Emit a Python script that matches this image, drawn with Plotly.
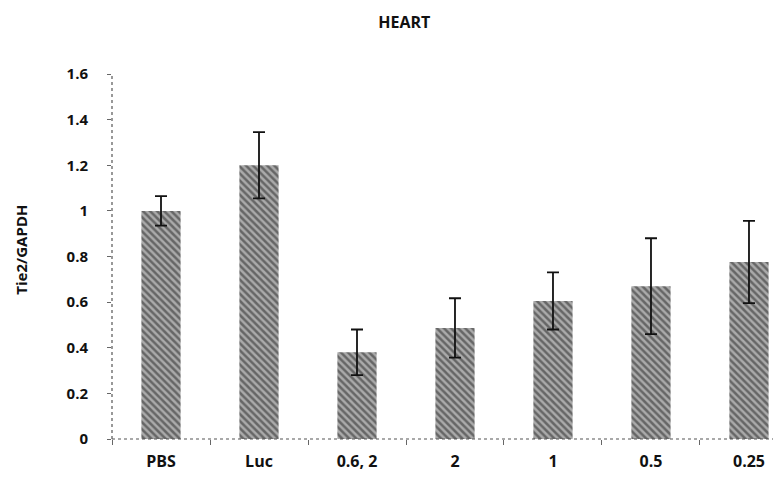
import plotly.graph_objects as go

categories = ["PBS", "Luc", "0.6, 2", "2", "1", "0.5", "0.25"]
values = [1.00, 1.20, 0.38, 0.487, 0.605, 0.67, 0.776]
errors = [0.065, 0.145, 0.10, 0.13, 0.125, 0.21, 0.18]
y_ticks = [0, 0.2, 0.4, 0.6, 0.8, 1, 1.2, 1.4, 1.6]
y_tick_labels = ["0", "0.2", "0.4", "0.6", "0.8", "1", "1.2", "1.4", "1.6"]

FONT = "Open Sans"

fig = go.Figure(go.Bar(
    x=categories, y=values, width=0.4,
    marker=dict(color="#a0a0a0", line=dict(width=0),
                pattern=dict(shape="\\", fgcolor="#222222", bgcolor="#aaaaaa",
                             size=5, solidity=0.5)),
    error_y=dict(type="data", array=errors, visible=True, color="#111",
                 thickness=1.8, width=6),
))

fig.update_layout(
    width=773, height=493,
    margin=dict(l=112, r=0, t=74, b=54, autoexpand=False),
    paper_bgcolor="white", plot_bgcolor="white",
    showlegend=False,
    title=dict(text="<b>HEART</b>", x=0.523, xanchor="center", y=0.955, yanchor="middle",
               font=dict(family=FONT, size=16, color="#111")),
    font=dict(family=FONT, color="#111"),
)
fig.update_xaxes(
    type="category", range=[-0.5, 6.245], automargin=False,
    showline=False, showgrid=False, zeroline=False,
    ticks="outside", tickson="boundaries", ticklen=5, tickcolor="#666", tickwidth=1,
    tickfont=dict(family=FONT, size=16, color="#111", weight="bold"),
    ticklabelstandoff=11,
)
fig.update_yaxes(
    range=[0, 1.6], tickvals=y_ticks, ticktext=y_tick_labels, automargin=False,
    showline=False, showgrid=False, zeroline=False,
    ticks="outside", ticklen=4, tickcolor="#666", tickwidth=1,
    tickfont=dict(family=FONT, size=15, color="#111", weight="bold"),
    ticklabelstandoff=16,
)
# dotted axis lines
fig.add_shape(type="line", xref="paper", yref="paper", x0=0, x1=0, y0=0, y1=1,
              line=dict(color="#555", width=1.2, dash="dot"))
fig.add_shape(type="line", xref="paper", yref="paper", x0=0, x1=1, y0=0, y1=0,
              line=dict(color="#555", width=1.2, dash="dot"))
fig.add_annotation(text="<b>Tie2/GAPDH</b>", xref="paper", yref="paper",
                   x=-0.137, xanchor="center", y=0.52, textangle=-90, showarrow=False,
                   font=dict(family=FONT, size=15, color="#111"))

fig.write_html("out.html", config={"displayModeBar": False})

# remove default page margin so the figure sits at the window's top-left corner
with open("out.html", "r", encoding="utf-8") as f:
    html = f.read()
html = html.replace("<head>", "<head><style>html,body{margin:0;padding:0;overflow:hidden}</style>", 1)
with open("out.html", "w", encoding="utf-8") as f:
    f.write(html)
